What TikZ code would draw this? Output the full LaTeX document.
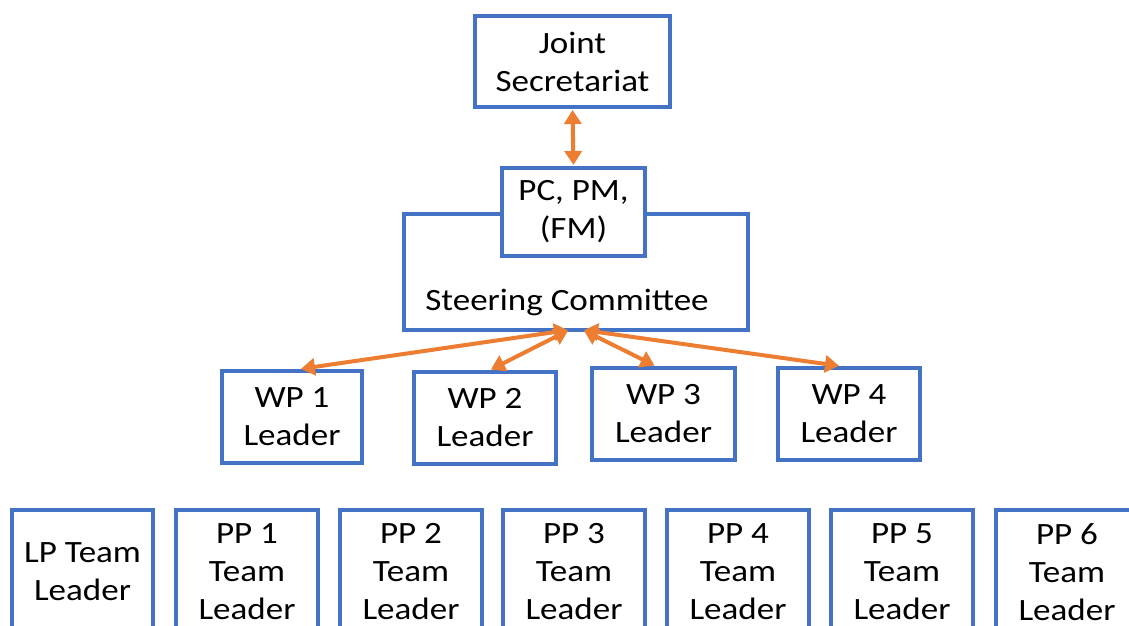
\documentclass[tikz,border=0pt]{standalone}
\usepackage{fontspec}
\setmainfont{Carlito}[FakeStretch=1.13]
\usetikzlibrary{arrows.meta}
\definecolor{boxblue}{RGB}{68,114,196}
\definecolor{arrorange}{RGB}{237,125,49}
\tikzset{
  orgbox/.style={rectangle,draw=boxblue,line width=4pt,fill=white,align=center,
    inner sep=2pt,font=\fontsize{31}{38}\selectfont},
  link/.style={arrorange,line width=4pt,
    {Triangle[length=14pt,width=17pt]}-{Triangle[length=14pt,width=17pt]},shorten <=1pt,shorten >=1pt}
}
\begin{document}
\begin{tikzpicture}[x=1pt,y=-1pt]
\useasboundingbox (0,0) rectangle (1129,626);
\clip (0,0) rectangle (1129,626);

\node (js) [orgbox,minimum width=195,minimum height=91] at (572.5,61.5) {Joint\\Secretariat};
\node (sc) [orgbox,minimum width=344,minimum height=116] at (576,272) {};
\node (sctext) [font=\fontsize{31}{38}\selectfont,anchor=base] at (567,310) {Steering Committee};
\node (pc) [orgbox,minimum width=143,minimum height=88] at (573.5,212) {PC, PM,\\(FM)};
\draw [link] (js.south)--(pc.north);

\node (wp1) [orgbox,minimum width=140,minimum height=92] at (292,417) {WP 1\\Leader};
\node (wp2) [orgbox,minimum width=142,minimum height=92] at (485,418) {WP 2\\Leader};
\node (wp3) [orgbox,minimum width=143,minimum height=92] at (663.5,414) {WP 3\\Leader};
\node (wp4) [orgbox,minimum width=142,minimum height=92] at (849,414) {WP 4\\Leader};

\coordinate (hubl) at (569,330);
\coordinate (hubr) at (583,330);
\draw [link] (hubl)--([xshift=8pt]wp1.north);
\draw [link] (hubl)--([xshift=5pt]wp2.north);
\draw [link] (hubr)--([xshift=-8pt]wp3.north);
\draw [link] (hubr)--([xshift=-9pt]wp4.north);

\node (lp) [orgbox,minimum width=141,minimum height=124] at (82.5,572) {LP Team\\Leader};
\foreach \i/\x in {1/247,2/411,3/574,4/738,5/902,6/1067}
  \node (pp\i) [orgbox,minimum width=142,minimum height=124] at (\x,572) {PP \i\\Team\\Leader};
\end{tikzpicture}
\end{document}
